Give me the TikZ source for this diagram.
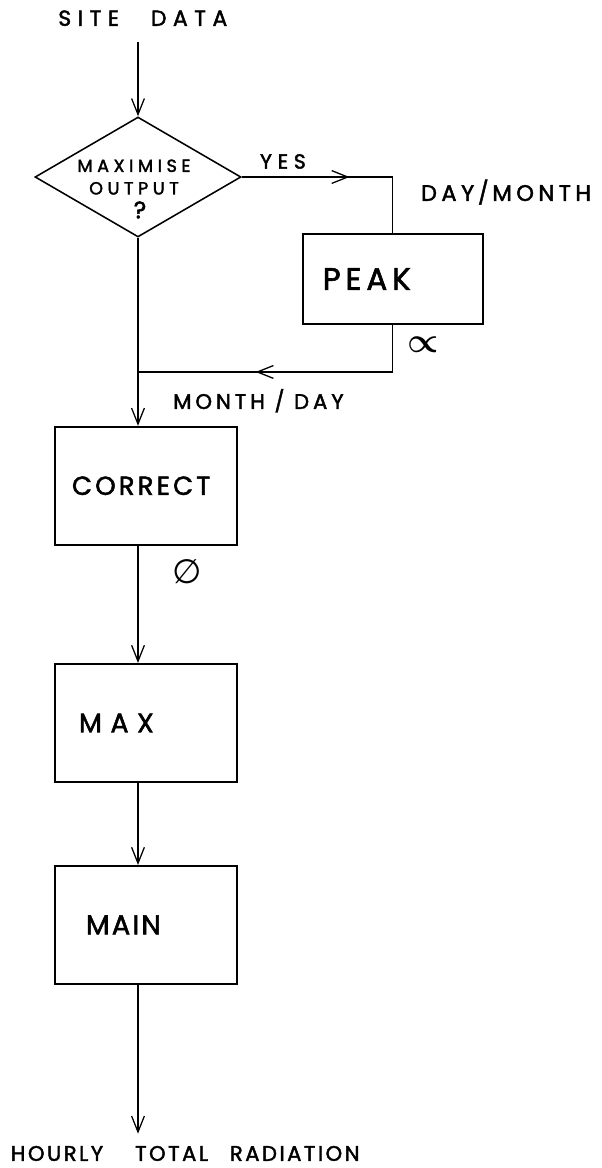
\documentclass[tikz,border=0pt]{standalone}
\usepackage{fontspec}
\setmainfont{Poppins}[LetterSpace=12, FakeBold=2]
\newfontfamily\symfont{DejaVu Sans}
\usetikzlibrary{positioning,arrows.meta,shapes.geometric,decorations.markings,calc}

\newcommand{\ls}[1]{\addfontfeature{LetterSpace=#1}}

\begin{document}
\begin{tikzpicture}[
  node distance = 2cm and 1cm,
  procbox/.style = {
    rectangle, draw, line width=1.4pt,
    minimum width=4.55cm, minimum height=2.95cm,
    text width=3.6cm, align=left, inner sep=0pt,
    font=\fontsize{18}{22}\selectfont
  },
  decbox/.style = {
    diamond, draw, line width=1.1pt,
    minimum width=5.15cm, minimum height=3cm, inner sep=0pt
  },
  dectext/.style = {
    inner sep=0pt, align=center,
    font=\fontsize{12.5}{16}\selectfont\ls{26}
  },
  lbl/.style  = {inner sep=0pt, font=\fontsize{15}{18}\selectfont},
  conn/.style = {line width=0.9pt},
  ca/.style   = {conn, -{Straight Barb[length=4mm,width=3.2mm]}},
  midarr/.style = {conn, postaction={decorate},
    decoration={markings,
      mark=at position #1 with {\arrow{Straight Barb[length=4mm,width=3.2mm]}}}}
]
\useasboundingbox (-3.45,4.425) rectangle (11.6,-24.775);

%% ---------- Decision ----------
\node[decbox, label={[dectext, xshift=-0.1cm, yshift=-0.3cm]center:%
      MAXIMISE\\OUTPUT\\[1pt]{\fontsize{17}{17}\selectfont\hspace{0.3cm}?}}] (dec) {};

\node[lbl, font=\fontsize{15.5}{16}\selectfont\ls{30}, inner ysep=0.4cm,
      above=1.85cm of dec, xshift=0.12cm] (site)
    {SITE\hspace{0.8cm}DATA};

\node[lbl, font=\fontsize{14.5}{15}\selectfont\ls{28},
      above right=0.2cm and 0.45cm of dec.east] (yes) {YES};

%% ---------- Peak branch ----------
\node[procbox, minimum width=4.5cm, minimum height=2.25cm, text width=3.5cm,
      font=\fontsize{22}{24}\selectfont\ls{16},
      below right=1.4cm and 1.5cm of dec.east] (peak) {PEAK};

\node[lbl, font=\fontsize{16}{18}\selectfont\ls{20},
      above right=0.7cm and 0.7cm of peak.north] (dm) {DAY\,/\,MONTH};
\node[lbl, font=\fontsize{33}{33}\selectfont\boldmath,
      below right=0.3cm and 0.35cm of peak.south] (prop) {$\propto$};

\coordinate[below=1.175cm of peak.south] (turn);
\coordinate (join) at (turn -| dec.south);

\node[lbl, font=\fontsize{15}{18}\selectfont\ls{19},
      below right=0.42cm and 0.875cm of join] (md) {MONTH / DAY};

%% ---------- Main chain ----------
\node[procbox, text width=3.7cm, font=\fontsize{18.5}{22}\selectfont\ls{12},
      below=4.7cm of dec, xshift=0.2cm] (corr) {CORRECT};
\node[lbl, font=\fontsize{24}{24}\selectfont\symfont,
      below right=0.35cm and 0.66cm of corr.south] (phi) {∅};

\node[procbox, text width=3.35cm, font=\fontsize{19}{22}\selectfont\ls{32},
      below=2.93cm of corr] (maxb) {MAX};
\node[procbox, text width=3.0cm, font=\fontsize{19.5}{22}\selectfont\ls{8},
      below=2.05cm of maxb] (mainb) {MAIN};

\node[lbl, inner ysep=0.3cm, below=3.72cm of mainb, xshift=0.98cm] (out)
    {HOURLY\hspace{0.8cm}TOTAL\hspace{0.55cm}RADIATION};

%% ---------- Arrows ----------
\draw[ca] (site.south -| dec.north) -- (dec.north);
\draw[midarr=0.52] (dec.east) -- (dec.east -| peak.north) -- (peak.north);
\draw[midarr=0.61] (peak.south) -- (turn) -- (join);
\draw[ca] (dec.south) -- (dec.south |- corr.north);
\draw[ca] (corr.south -| dec.south) -- (maxb.north -| dec.south);
\draw[ca] (maxb.south -| dec.south) -- (mainb.north -| dec.south);
\draw[ca] (mainb.south -| dec.south) -- (out.north -| dec.south);

\end{tikzpicture}
\end{document}
